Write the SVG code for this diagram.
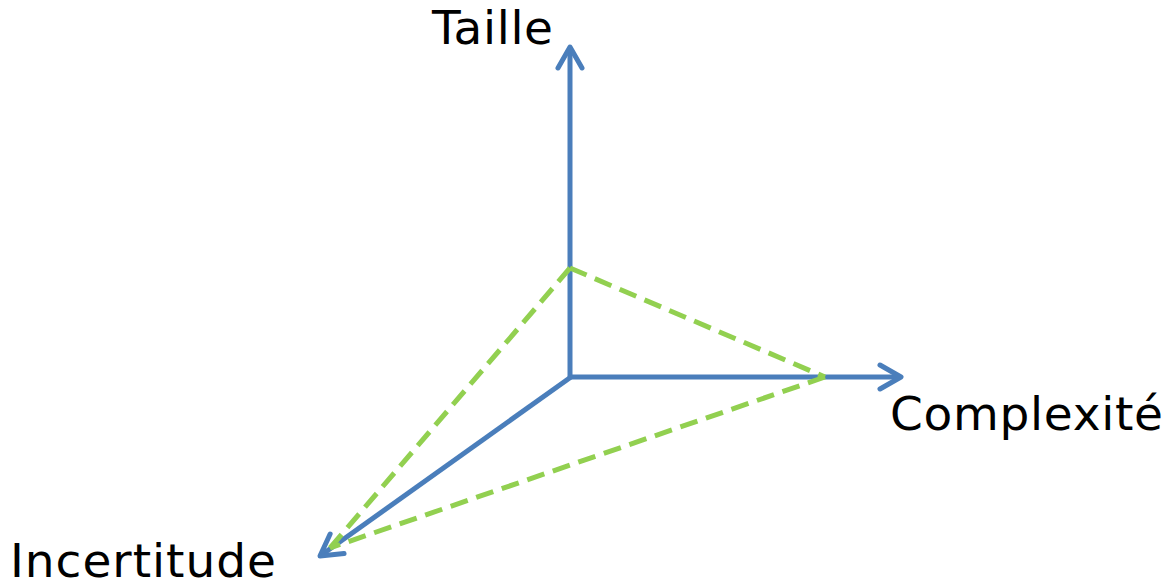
<svg xmlns="http://www.w3.org/2000/svg" width="1168" height="584" viewBox="0 0 1168 584">
<style>
.axis{stroke:#4A7EBB;stroke-width:5;fill:none}
.dash{stroke:#92D050;stroke-width:5;fill:none;stroke-dasharray:18 9}
.lbl{font-family:"DejaVu Sans","Verdana",sans-serif;font-size:47px;fill:#000}
</style>
<defs>
<marker id="arr" markerUnits="userSpaceOnUse" viewBox="-30 -20 40 40" markerWidth="40" markerHeight="40" refX="0" refY="0" orient="auto">
<path d="M-21,-12 L0,0 L-21,12" fill="none" stroke="#4A7EBB" stroke-width="5" stroke-linecap="round" stroke-linejoin="round"/>
</marker>
</defs>
<rect width="1168" height="584" fill="#fff"/>
<g id="connectors">
<line class="axis" x1="570" y1="377" x2="570" y2="47" marker-end="url(#arr)"/>
<line class="axis" x1="568" y1="377" x2="901" y2="377" marker-end="url(#arr)"/>
<line class="axis" x1="571" y1="377" x2="320" y2="556" marker-end="url(#arr)"/>
<line class="dash" x1="570" y1="268" x2="825" y2="377"/>
<line class="dash" x1="825" y1="377" x2="330" y2="548"/>
<line class="dash" x1="570" y1="268" x2="330" y2="548"/>
</g>
<g id="taille"><text class="lbl" x="432" y="44" textLength="121" lengthAdjust="spacing">Taille</text></g>
<g id="complexite"><text class="lbl" x="890" y="430" textLength="273" lengthAdjust="spacing">Complexité</text></g>
<g id="incertitude"><text class="lbl" x="10" y="577" textLength="266" lengthAdjust="spacing">Incertitude</text></g>
</svg>
